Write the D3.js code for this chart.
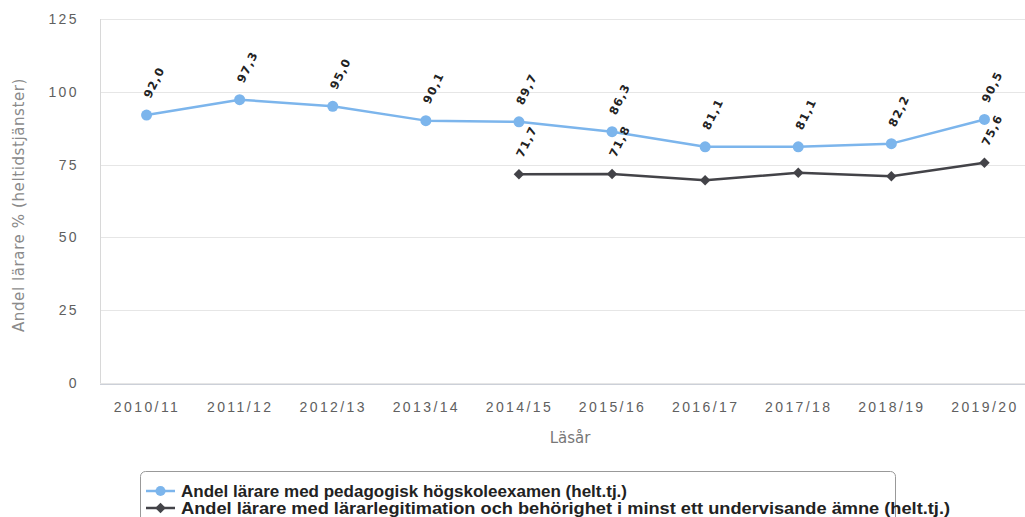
<!DOCTYPE html>
<html>
<head>
<meta charset="utf-8">
<title>Andel lärare</title>
<script src="https://cdn.jsdelivr.net/npm/d3@7/dist/d3.min.js"></script>
<style>
* { margin: 0; padding: 0; }
body { background: #fff; }
svg { display: block; font-family: "DejaVu Sans", sans-serif; }
.tick text { fill: #606060; font-size: 14px; letter-spacing: 2.4px; }
.lbl { font-size: 11.5px; font-weight: bold; fill: #222; letter-spacing: 1.2px; }
.legend text { font-family: "Liberation Sans Narrow", "Liberation Sans", sans-serif; font-weight: bold; font-size: 16px; fill: #222; }
</style>
</head>
<body>
<svg width="1025" height="517" id="chart"></svg>
<script>
// data
var years = ["2010/11", "2011/12", "2012/13", "2013/14", "2014/15", "2015/16", "2016/17", "2017/18", "2018/19", "2019/20"];
var pedagogisk = [92.0, 97.3, 95.0, 90.1, 89.7, 86.3, 81.1, 81.1, 82.2, 90.5];
var legitimation = [null, null, null, null, 71.7, 71.8, 69.6, 72.2, 71.0, 75.6];
// which labels show for the dark series (others hidden by the chart)
var legitimationLabels = [null, null, null, null, "71,7", "71,8", null, null, null, "75,6"];
var yTicks = [0, 25, 50, 75, 100, 125];
var seriesNames = ["Andel lärare med pedagogisk högskoleexamen (helt.tj.)",
                   "Andel lärare med lärarlegitimation och behörighet i minst ett undervisande ämne (helt.tj.)"];
var colors = ["#7cb5ec", "#434348"];

var svg = d3.select("#chart");
var pLeft = 100, pRight = 1031, pTop = 19, pBottom = 383;

var x = d3.scalePoint().domain(years).range([pLeft, pRight]).padding(0.5);
var y = d3.scaleLinear().domain([0, 125]).range([pBottom, pTop]);

// grid
svg.append("g")
  .selectAll("line").data(yTicks).enter().append("line")
  .attr("x1", pLeft).attr("x2", 1025)
  .attr("y1", function(d) { return Math.round(y(d)) + 0.5; })
  .attr("y2", function(d) { return Math.round(y(d)) + 0.5; })
  .attr("stroke", "#e6e6e6");

// y axis labels
var ya = svg.append("g").attr("transform", "translate(" + pLeft + ",0)")
  .call(d3.axisLeft(y).tickValues(yTicks).tickSize(0).tickPadding(21));
ya.select(".domain").attr("stroke", "#d8d8d8").attr("d", "M0.5," + pTop + "V" + pBottom);

// x axis
var xa = svg.append("g").attr("transform", "translate(0," + (pBottom + 1) + ")")
  .call(d3.axisBottom(x).tickSize(0).tickPadding(18));
xa.select(".domain").attr("stroke", "#ccd0d8").attr("d", "M" + pLeft + ",0.5H1025");

// axis titles
svg.append("text")
  .attr("transform", "translate(24," + ((pTop + pBottom) / 2 + 4) + ") rotate(-90)")
  .attr("text-anchor", "middle").attr("fill", "#8a8a8a")
  .style("font-size", "15px").style("letter-spacing", "0.6px")
  .text("Andel lärare % (heltidstjänster)");
svg.append("text")
  .attr("x", 570).attr("y", 443)
  .attr("text-anchor", "middle").attr("fill", "#777")
  .style("font-size", "15px")
  .text("Läsår");

var line = d3.line()
  .defined(function(d) { return d != null; })
  .x(function(d, i) { return x(years[i]); })
  .y(function(d) { return y(d); });

// blue series
svg.append("path").datum(pedagogisk)
  .attr("fill", "none").attr("stroke", colors[0]).attr("stroke-width", 2.5)
  .attr("stroke-linejoin", "round").attr("d", line);
svg.append("g").selectAll("circle").data(pedagogisk).enter().append("circle")
  .attr("cx", function(d, i) { return x(years[i]); })
  .attr("cy", function(d) { return y(d); })
  .attr("r", 5.5).attr("fill", colors[0]);

// dark series
svg.append("path").datum(legitimation)
  .attr("fill", "none").attr("stroke", colors[1]).attr("stroke-width", 2.5)
  .attr("stroke-linejoin", "round").attr("d", line);
var diamond = d3.symbol().type(d3.symbolDiamond2).size(70);
svg.append("g").selectAll("path")
  .data(legitimation.map(function(d, i) { return {v: d, i: i}; }).filter(function(d) { return d.v != null; }))
  .enter().append("path")
  .attr("transform", function(d) { return "translate(" + x(years[d.i]) + "," + y(d.v) + ")"; })
  .attr("d", diamond).attr("fill", colors[1]);

// data labels
function fmt(v) { return v.toFixed(1).replace(".", ","); }
svg.append("g").selectAll("text").data(pedagogisk).enter().append("text")
  .attr("class", "lbl")
  .attr("transform", function(d, i) { return "translate(" + (x(years[i]) + 4) + "," + (y(d) - 16) + ") rotate(-64)"; })
  .text(function(d) { return fmt(d); });
svg.append("g").selectAll("text")
  .data(legitimation.map(function(d, i) { return {v: d, t: legitimationLabels[i], i: i}; }).filter(function(d) { return d.t; }))
  .enter().append("text")
  .attr("class", "lbl")
  .attr("transform", function(d) { return "translate(" + (x(years[d.i]) + 4) + "," + (y(d.v) - 16) + ") rotate(-64)"; })
  .text(function(d) { return d.t; });

// legend
var legendWidths = [446, 769];
var lg = svg.append("g").attr("class", "legend");
lg.append("rect").attr("x", 140.5).attr("y", 471.5).attr("width", 755).attr("height", 80)
  .attr("rx", 5).attr("fill", "#fff").attr("stroke", "#999");
var item = lg.selectAll("g").data(seriesNames).enter().append("g")
  .attr("transform", function(d, i) { return "translate(0," + (491 + i * 17) + ")"; });
item.append("line").attr("x1", 146).attr("x2", 175).attr("stroke-width", 2.5)
  .attr("stroke", function(d, i) { return colors[i]; });
item.append("path")
  .attr("transform", "translate(160.5,0)")
  .attr("d", function(d, i) { return i === 0 ? d3.symbol().type(d3.symbolCircle).size(80)() : diamond(); })
  .attr("fill", function(d, i) { return colors[i]; });
item.append("text").attr("x", 181).attr("dy", "0.35em")
  .attr("textLength", function(d, i) { return legendWidths[i]; })
  .attr("lengthAdjust", "spacingAndGlyphs")
  .text(function(d) { return d; });
</script>
</body>
</html>
